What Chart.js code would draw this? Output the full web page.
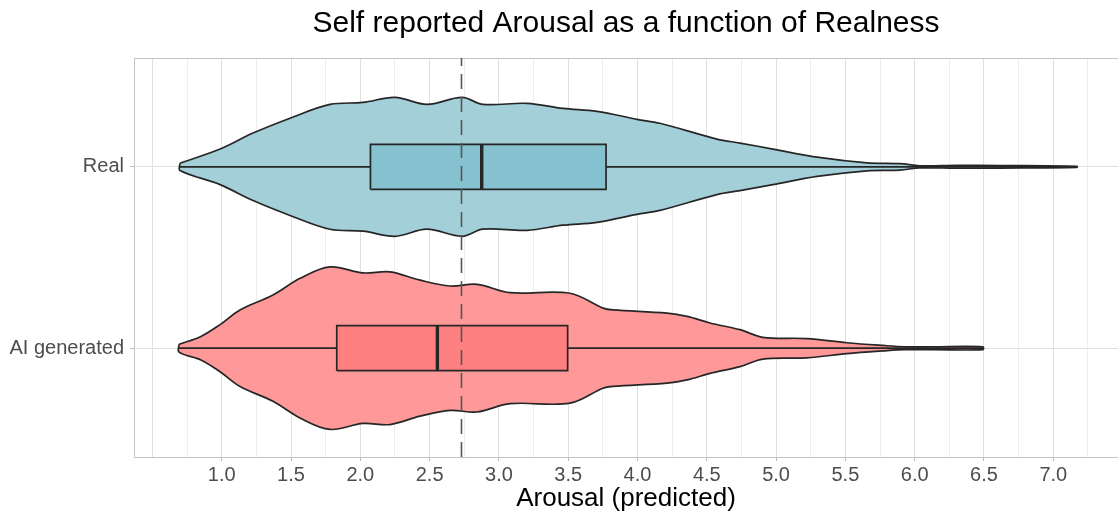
<!DOCTYPE html>
<html lang="en">
<head>
    <meta charset="UTF-8">
    <title>Self reported Arousal as a function of Realness</title>
    <script src="https://cdn.jsdelivr.net/npm/chart.js"></script>
    <style>
        html, body { margin: 0; padding: 0; background: #fff; }
        #wrap { width: 1118px; height: 517px; position: relative; }
    </style>
</head>
<body>
    <div id="wrap"><canvas id="grafico"></canvas></div>
    <script>
        // categories, bottom to top (y = 1, y = 2)
        const categories = ['AI generated', 'Real'];

        // violin outlines: x positions and half widths (in category units)
        const aiX =         [0.692, 0.850, 0.988, 1.132, 1.370, 1.565, 1.781, 2.019, 2.214, 2.431, 2.647, 2.842, 3.080, 3.513, 3.751, 3.823, 4.213, 4.357, 4.523, 4.739, 4.905, 5.222, 5.511, 5.771, 5.929, 6.131, 6.492];
        const aiHalfWidth = [0.022, 0.065, 0.130, 0.211, 0.293, 0.385, 0.448, 0.415, 0.421, 0.375, 0.343, 0.352, 0.306, 0.303, 0.221, 0.211, 0.193, 0.175, 0.139, 0.102, 0.060, 0.053, 0.030, 0.015, 0.008, 0.008, 0.008];

        const realX =         [0.699, 0.988, 1.226, 1.493, 1.781, 2.019, 2.250, 2.481, 2.734, 2.885, 3.203, 3.463, 3.708, 3.996, 4.162, 4.573, 4.739, 4.977, 5.295, 5.655, 5.893, 6.037, 6.304, 6.615, 7.171];
        const realHalfWidth = [0.020, 0.098, 0.186, 0.268, 0.344, 0.355, 0.383, 0.344, 0.383, 0.344, 0.350, 0.322, 0.306, 0.262, 0.240, 0.153, 0.131, 0.098, 0.053, 0.022, 0.018, 0.006, 0.008, 0.007, 0.003];

        // boxplot stats, same order as categories
        const boxMin = [0.692, 0.699];
        const boxQ1 = [1.830, 2.073];
        const boxMedian = [2.556, 2.876];
        const boxQ3 = [3.496, 3.773];
        const boxMax = [6.492, 7.171];

        // dashed reference line
        const refLine = 2.730;

        // x axis
        const xTickValues = [1.0, 1.5, 2.0, 2.5, 3.0, 3.5, 4.0, 4.5, 5.0, 5.5, 6.0, 6.5, 7.0];
        const xTickLabels = ['1.0', '1.5', '2.0', '2.5', '3.0', '3.5', '4.0', '4.5', '5.0', '5.5', '6.0', '6.5', '7.0'];
        const xMin = 0.367, xMax = 7.467;

        const violinFill = ['rgba(255,153,153,1)', 'rgba(163,207,217,1)'];
        const boxFill = ['rgba(255,128,128,1)', 'rgba(134,193,208,1)'];
        const outline = '#262626';
        const boxHalf = 0.124;

        const gridX = [];
        for (let v = 0.5; v <= 7.25 + 1e-9; v += 0.25) gridX.push(+v.toFixed(2));

        const findLabel = (v) => {
            const i = xTickValues.findIndex(t => Math.abs(t - v) < 1e-6);
            return i >= 0 ? xTickLabels[i] : '';
        };

        const violinPoints = (xs, hw, c) => {
            const top = xs.map((x, i) => ({ x: x, y: c + hw[i] }));
            const bottom = xs.map((x, i) => ({ x: x, y: c - hw[i] })).reverse();
            return top.concat(bottom, [top[0]]);
        };

        const datasets = [];
        const violins = [[aiX, aiHalfWidth], [realX, realHalfWidth]];
        violins.forEach(([xs, hw], i) => {
            const c = i + 1;
            datasets.push({
                data: violinPoints(xs, hw, c), showLine: true, fill: 'shape',
                backgroundColor: violinFill[i], borderColor: outline, borderWidth: 1.7,
                tension: 0.35, pointRadius: 0, order: 5
            });
            datasets.push({
                data: [{ x: boxMin[i], y: c }, { x: boxMax[i], y: c }], showLine: true,
                borderColor: outline, borderWidth: 1.7, pointRadius: 0, order: 4
            });
            datasets.push({
                data: [
                    { x: boxQ1[i], y: c - boxHalf }, { x: boxQ3[i], y: c - boxHalf },
                    { x: boxQ3[i], y: c + boxHalf }, { x: boxQ1[i], y: c + boxHalf },
                    { x: boxQ1[i], y: c - boxHalf }
                ],
                showLine: true, fill: 'shape', backgroundColor: boxFill[i],
                borderColor: outline, borderWidth: 1.7, pointRadius: 0, order: 3
            });
            datasets.push({
                data: [{ x: boxMedian[i], y: c - boxHalf }, { x: boxMedian[i], y: c + boxHalf }],
                showLine: true, borderColor: outline, borderWidth: 3.4, pointRadius: 0, order: 2
            });
        });
        datasets.push({
            data: [{ x: refLine, y: 0.4 }, { x: refLine, y: 2.6 }], showLine: true,
            borderColor: '#555555', borderWidth: 1.6, borderDash: [15, 8], pointRadius: 0, order: 1
        });

        // title centred over the panel, plus top border of the panel
        const panelExtras = {
            id: 'panelExtras',
            beforeDatasetsDraw(chart) {
                const { ctx, chartArea } = chart;
                ctx.save();
                ctx.strokeStyle = '#c4c4c4';
                ctx.lineWidth = 1;
                ctx.beginPath();
                ctx.moveTo(chartArea.left, chartArea.top + 0.5);
                ctx.lineTo(chartArea.right, chartArea.top + 0.5);
                ctx.stroke();
                ctx.restore();
            },
            afterDraw(chart) {
                const { ctx, chartArea } = chart;
                ctx.save();
                ctx.fillStyle = '#000';
                ctx.font = '30px "Liberation Sans", Arial, sans-serif';
                ctx.textAlign = 'center';
                ctx.textBaseline = 'alphabetic';
                ctx.fillText('Self reported Arousal as a function of Realness', (chartArea.left + chartArea.right) / 2, 32);
                ctx.restore();
            }
        };

        Chart.defaults.font.family = '"Liberation Sans", Arial, sans-serif';

        new Chart(document.getElementById('grafico'), {
            type: 'scatter',
            data: { datasets: datasets },
            plugins: [panelExtras],
            options: {
                responsive: true,
                maintainAspectRatio: false,
                animation: false,
                layout: { padding: { top: 58, right: 0, bottom: 0, left: 0 } },
                plugins: { legend: { display: false }, tooltip: { enabled: false } },
                scales: {
                    x: {
                        type: 'linear', min: xMin, max: xMax,
                        afterBuildTicks: (s) => { s.ticks = gridX.map(v => ({ value: v })); },
                        afterFit: (s) => { s.height = 60; },
                        grid: {
                            color: (ctx) => (Math.abs(ctx.tick.value * 2 - Math.round(ctx.tick.value * 2)) < 1e-6 ? '#e0e0e0' : '#eeeeee'),
                            tickColor: (ctx) => (findLabel(ctx.tick.value) ? '#bdbdbd' : 'rgba(0,0,0,0)'),
                            tickLength: 4, lineWidth: 1
                        },
                        border: { color: '#c4c4c4', width: 1 },
                        ticks: {
                            autoSkip: false, maxRotation: 0, minRotation: 0, padding: 2,
                            color: '#4d4d4d', font: { size: 20 },
                            callback: (v) => findLabel(v)
                        },
                        title: {
                            display: true, text: 'Arousal (predicted)', color: '#000',
                            font: { size: 26 }, padding: { top: 0, bottom: 3 }
                        }
                    },
                    y: {
                        type: 'linear', min: 0.4, max: 2.6,
                        afterBuildTicks: (s) => { s.ticks = [{ value: 1 }, { value: 2 }]; },
                        afterFit: (s) => { s.width = 134; },
                        grid: { color: '#e0e0e0', tickColor: '#bdbdbd', tickLength: 4 },
                        border: { color: '#c4c4c4', width: 1 },
                        ticks: {
                            color: '#4d4d4d', font: { size: 20 }, padding: 6,
                            callback: (v) => categories[Math.round(v) - 1]
                        }
                    }
                }
            }
        });
    </script>
</body>
</html>
